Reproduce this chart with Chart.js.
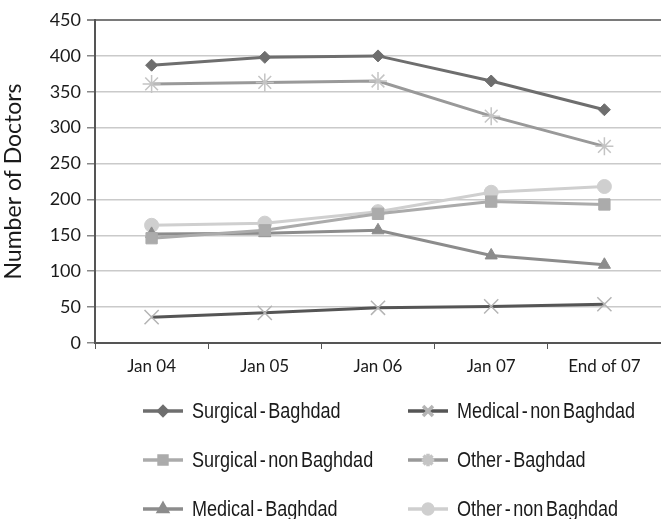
<!DOCTYPE html>
<html lang="en">
<head>
  <meta charset="UTF-8">
  <title>Number of Doctors</title>
  <script src="https://cdn.jsdelivr.net/npm/chart.js"></script>
  <style>
    html, body { margin: 0; padding: 0; background: #fff; overflow: hidden; }
    #wrap { width: 661px; height: 519px; }
    canvas { display: block; }
  </style>
</head>
<body>
  <div id="wrap">
    <canvas id="grafico" width="661" height="519"></canvas>
  </div>

<script>
  // categorias e valores
  const periodos = ['Jan 04', 'Jan 05', 'Jan 06', 'Jan 07', 'End of 07'];

  const surgicalBaghdad = [387, 398, 400, 365, 325];
  const medicalNonBaghdad = [36, 42, 49, 51, 54];
  const surgicalNonBaghdad = [146, 157, 180, 197, 193];
  const otherBaghdad = [361, 363, 365, 316, 274];
  const medicalBaghdad = [152, 153, 157, 122, 109];
  const otherNonBaghdad = [164, 167, 183, 210, 218];

  const yTicks = [0, 50, 100, 150, 200, 250, 300, 350, 400, 450];

  const fonte = 'Lato, "DejaVu Sans", sans-serif';
  const fonteLegenda = '"Liberation Sans", Arial, sans-serif';

  function serie(label, data, cor, corPonto, estilo, raio, borda) {
    return {
      label: label,
      data: data,
      borderColor: cor,
      backgroundColor: corPonto,
      pointBorderColor: corPonto,
      pointBackgroundColor: corPonto,
      pointStyle: estilo,
      pointRadius: raio,
      pointBorderWidth: borda,
      borderWidth: 3,
      fill: false,
      tension: 0
    };
  }

  // ordem da legenda: coluna da esquerda depois da direita
  const series = [
    serie('Surgical - Baghdad', surgicalBaghdad, '#6e6e6e', '#6e6e6e', 'rectRot', 6, 1),
    serie('Surgical - non Baghdad', surgicalNonBaghdad, '#ababab', '#ababab', 'rect', 8, 1),
    serie('Medical - Baghdad', medicalBaghdad, '#8c8c8c', '#8c8c8c', 'triangle', 7, 1),
    serie('Medical - non Baghdad', medicalNonBaghdad, '#555555', '#b4b4b4', 'crossRot', 10, 1.5),
    serie('Other - Baghdad', otherBaghdad, '#999999', '#c4c4c4', 'star', 9, 1.5),
    serie('Other - non Baghdad', otherNonBaghdad, '#cfcfcf', '#cfcfcf', 'circle', 7, 1)
  ];

  // legenda em duas colunas desenhada no canvas
  const legendaColunas = {
    id: 'legendaColunas',
    afterDraw(chart) {
      const ctx = chart.ctx;
      const colX = [143, 408];
      const linhaY = [411, 460, 509];
      ctx.save();
      chart.data.datasets.forEach(function (ds, i) {
        const col = Math.floor(i / 3);
        const row = i % 3;
        const x = colX[col];
        const y = linhaY[row];
        ctx.strokeStyle = ds.borderColor;
        ctx.lineWidth = 3.5;
        ctx.beginPath();
        ctx.moveTo(x, y);
        ctx.lineTo(x + 40, y);
        ctx.stroke();
        ctx.fillStyle = ds.pointBackgroundColor;
        ctx.strokeStyle = ds.pointBorderColor;
        Chart.helpers.drawPoint(ctx, {
          pointStyle: ds.pointStyle,
          radius: ds.pointRadius * 0.7,
          rotation: 0,
          borderWidth: ds.pointBorderWidth
        }, x + 20, y);

        // texto estreito, como no original
        ctx.save();
        ctx.translate(x + 49, y);
        ctx.scale(0.82, 1);
        ctx.fillStyle = '#1a1a1a';
        ctx.font = '22px ' + fonteLegenda;
        ctx.textBaseline = 'middle';
        ctx.textAlign = 'left';
        if ('wordSpacing' in ctx) ctx.wordSpacing = '-3px';
        ctx.fillText(ds.label, 0, 1);
        ctx.restore();
      });
      ctx.restore();
    }
  };

  const config = {
    type: 'line',
    data: {
      labels: periodos,
      datasets: series
    },
    options: {
      responsive: false,
      maintainAspectRatio: false,
      animation: false,
      layout: {
        autoPadding: false,
        padding: { top: 20, right: 0, bottom: 146, left: 0 }
      },
      plugins: {
        legend: { display: false },
        tooltip: { enabled: false }
      },
      scales: {
        x: {
          offset: true,
          grid: {
            offset: true,
            drawOnChartArea: false,
            drawTicks: true,
            tickLength: 6,
            color: '#555'
          },
          border: { color: '#555', width: 2 },
          ticks: {
            color: '#1a1a1a',
            font: { family: fonte, size: 17 },
            padding: 7,
            maxRotation: 0
          },
          afterFit(scale) {
            scale.height = 30;
            scale.paddingLeft = 0;
            scale.paddingRight = 0;
          }
        },
        y: {
          min: 0,
          max: 450,
          afterBuildTicks(scale) {
            scale.ticks = yTicks.map(function (v) { return { value: v }; });
          },
          grid: {
            color(ctx) { return ctx.tick && ctx.tick.value === 450 ? '#7a7a7a' : '#cacaca'; },
            lineWidth(ctx) { return ctx.tick && ctx.tick.value === 450 ? 2 : 1.5; },
            tickLength: 8,
            tickColor: '#888'
          },
          border: { color: '#555', width: 2 },
          ticks: {
            color: '#1a1a1a',
            font: { family: fonte, size: 18 },
            padding: 6
          },
          title: {
            display: true,
            text: 'Number of Doctors',
            color: '#1a1a1a',
            font: { family: fonte, size: 23 },
            padding: { top: 0, bottom: 2 }
          },
          afterFit(scale) { scale.width = 95; }
        }
      }
    },
    plugins: [legendaColunas]
  };

  new Chart(document.getElementById('grafico'), config);
</script>
</body>
</html>
